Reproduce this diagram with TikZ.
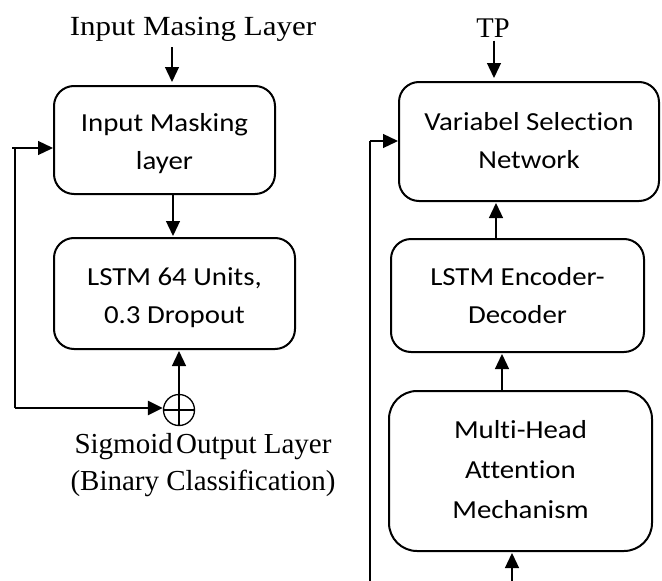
\documentclass[tikz,border=0pt]{standalone}
\usepackage{fontspec}
\setmainfont{Liberation Serif}
\newfontfamily\boxfont[FakeStretch=1.11,Ligatures=NoCommon]{Carlito}
\newfontfamily\widefont[FakeStretch=1.12]{Liberation Serif}
\usetikzlibrary{arrows.meta}
\newcommand\firstln[1]{\rule{0pt}{#1pt}}
\newcommand\lastln{\rule[-6pt]{0pt}{6pt}}
\begin{document}
\begin{tikzpicture}[x=1pt,y=-1pt,
  blk/.style={draw,line width=2pt,rounded corners=20pt,font=\boxfont\fontsize{26}{38}\selectfont,align=center,inner sep=0pt},
  lbl/.style={font=\fontsize{29}{37}\selectfont,inner sep=0pt,align=center},
  arr/.style={line width=1.3pt,-{Triangle[length=15pt,width=14pt]}},
  thinl/.style={line width=1.3pt}]
\useasboundingbox (0,0) rectangle (662,581);

% left column
\node[lbl,font=\widefont\fontsize{27.7}{33}\selectfont] (lblin) at (193,29) {Input Masing Layer};
\node[blk,minimum width=221pt,minimum height=108pt] (b1) at (164.5,140) {\firstln{27.4}Input Masking\\layer\lastln};
\node[blk,minimum width=241pt,minimum height=111pt] (b2) at (174.5,293.5) {\firstln{27}LSTM 64 Units,\\0.3 Dropout\lastln};
\node[draw,circle,line width=1.3pt,minimum size=31pt,inner sep=0pt] (sum) at (179,410) {};
\draw[thinl] (sum.north) -- (sum.south) (sum.west) -- (sum.east);
\node[lbl] (lblout) at (203,464.7) {Sigmoid\hspace{-4pt} Output Layer\\(Binary Classification)};
\coordinate (fb1) at (15,408);
\coordinate (fb2) at (15,148);
\coordinate (fb3) at (12,148);

\draw[arr,shorten >=3pt] ([xshift=-21pt,yshift=-6pt]lblin.south) -- ([xshift=7.5pt]b1.north);
\draw[arr,shorten >=1pt] ([xshift=8.5pt]b1.south) -- ([xshift=-1.5pt]b2.north);
\draw[arr,shorten >=1pt] (sum.north) -- ([xshift=4.5pt]b2.south);
\draw[line width=2.4pt,-{Triangle[length=15pt,width=14pt]}] (fb1) -- (fb1 -| sum.west);
\draw[thinl] (fb1) -- (fb2);
\draw[arr] (fb3) -- (fb3 -| b1.west);

% right column
\node[lbl,font=\fontsize{28.5}{33}\selectfont] (lbltp) at (493,28) {TP};
\node[blk,minimum width=260pt,minimum height=119pt] (vsn) at (529,141.5) {\firstln{21}Variabel Selection\\Network\lastln};
\node[blk,minimum width=253pt,minimum height=113pt] (enc) at (517.5,295.5) {\firstln{23}LSTM Encoder-\\Decoder\lastln};
\node[blk,rounded corners=28pt,font=\boxfont\fontsize{26}{40}\selectfont,minimum width=263pt,minimum height=160pt] (mha) at (520.5,471) {\firstln{20}Multi-Head\\Attention\\Mechanism\lastln};
\coordinate (inb) at (512,581);
\coordinate (lv1) at (370,581);
\coordinate (lv2) at (370,141);

\draw[arr,shorten >=3pt] ([xshift=1pt,yshift=-3pt]lbltp.south) -- ([xshift=-35pt]vsn.north);
\draw[arr,shorten >=1pt] ([xshift=-21.5pt]enc.north) -- ([xshift=-33pt]vsn.south);
\draw[arr,shorten >=1pt] ([xshift=-18.5pt]mha.north) -- ([xshift=-15.5pt]enc.south);
\draw[arr,shorten >=1pt] (inb) -- (mha.south -| inb);
\draw[thinl] (lv1) -- (lv2);
\draw[arr] (lv2) -- (vsn.west |- lv2);
\end{tikzpicture}
\end{document}
